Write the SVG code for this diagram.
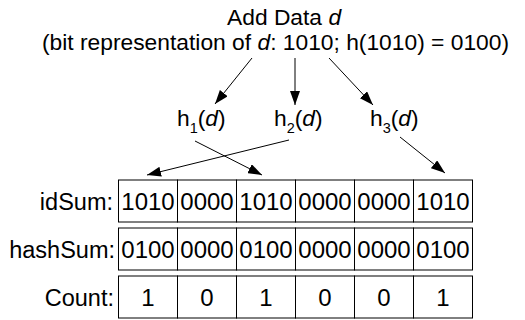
<svg xmlns="http://www.w3.org/2000/svg" width="525" height="320" viewBox="0 0 525 320">
<style>
text{font-family:"Liberation Sans",Arial,sans-serif;font-size:23.5px;fill:#000}
.t{font-size:22.8px}
.h{font-size:22.8px}
.c{text-anchor:middle;font-size:24px}
.l{text-anchor:end}
.i{font-style:italic}
.s{font-size:14.5px}
rect{fill:#fff;stroke:#000;stroke-width:1}
line{stroke:#000;stroke-width:1}
</style>
<defs>
<marker id="ah" viewBox="0 0 14 10" refX="14" refY="5" markerWidth="14" markerHeight="10" markerUnits="userSpaceOnUse" orient="auto">
<path d="M0,0 L14,5 L0,10 Z" fill="#000"/>
</marker>
</defs>
<g id="title">
<text class="t" x="227" y="24.5">Add Data <tspan class="i">d</tspan></text>
<text class="t" x="42" y="49.5">(bit representation of <tspan class="i">d</tspan>: 1010; h(1010) = 0100)</text>
</g>
<g id="h1"><text class="h" x="177" y="126">h<tspan class="s" dy="7">1</tspan><tspan dy="-7">(<tspan class="i">d</tspan>)</tspan></text></g>
<g id="h2"><text class="h" x="274" y="126">h<tspan class="s" dy="7">2</tspan><tspan dy="-7">(<tspan class="i">d</tspan>)</tspan></text></g>
<g id="h3"><text class="h" x="370" y="126">h<tspan class="s" dy="7">3</tspan><tspan dy="-7">(<tspan class="i">d</tspan>)</tspan></text></g>
<g id="connectors">
<line x1="252" y1="58" x2="215" y2="104" marker-end="url(#ah)"/>
<line x1="295" y1="58" x2="295" y2="105" marker-end="url(#ah)"/>
<line x1="329" y1="58" x2="373" y2="105" marker-end="url(#ah)"/>
<line x1="195" y1="141" x2="262" y2="175" marker-end="url(#ah)"/>
<line x1="289" y1="140" x2="147" y2="175" marker-end="url(#ah)"/>
<line x1="400" y1="137" x2="445" y2="173" marker-end="url(#ah)"/>
</g>
<g id="idSum">
<text class="l" x="113" y="209.5">idSum:</text>
<rect x="118.5" y="180" width="59" height="42"/><rect x="177.5" y="180" width="59" height="42"/><rect x="236.5" y="180" width="59" height="42"/><rect x="295.5" y="180" width="59" height="42"/><rect x="354.5" y="180" width="59" height="42"/><rect x="413.5" y="180" width="59" height="42"/>
<text class="c" x="148" y="209.5">1010</text><text class="c" x="207" y="209.5">0000</text><text class="c" x="266" y="209.5">1010</text><text class="c" x="325" y="209.5">0000</text><text class="c" x="384" y="209.5">0000</text><text class="c" x="443" y="209.5">1010</text>
</g>
<g id="hashSum">
<text class="l" x="115" y="257.5">hashSum:</text>
<rect x="118.5" y="228" width="59" height="42"/><rect x="177.5" y="228" width="59" height="42"/><rect x="236.5" y="228" width="59" height="42"/><rect x="295.5" y="228" width="59" height="42"/><rect x="354.5" y="228" width="59" height="42"/><rect x="413.5" y="228" width="59" height="42"/>
<text class="c" x="148" y="257.5">0100</text><text class="c" x="207" y="257.5">0000</text><text class="c" x="266" y="257.5">0100</text><text class="c" x="325" y="257.5">0000</text><text class="c" x="384" y="257.5">0000</text><text class="c" x="443" y="257.5">0100</text>
</g>
<g id="count">
<text class="l" x="114" y="305.5">Count:</text>
<rect x="118.5" y="276" width="59" height="42"/><rect x="177.5" y="276" width="59" height="42"/><rect x="236.5" y="276" width="59" height="42"/><rect x="295.5" y="276" width="59" height="42"/><rect x="354.5" y="276" width="59" height="42"/><rect x="413.5" y="276" width="59" height="42"/>
<text class="c" x="148" y="305.5">1</text><text class="c" x="207" y="305.5">0</text><text class="c" x="266" y="305.5">1</text><text class="c" x="325" y="305.5">0</text><text class="c" x="384" y="305.5">0</text><text class="c" x="443" y="305.5">1</text>
</g>
</svg>
